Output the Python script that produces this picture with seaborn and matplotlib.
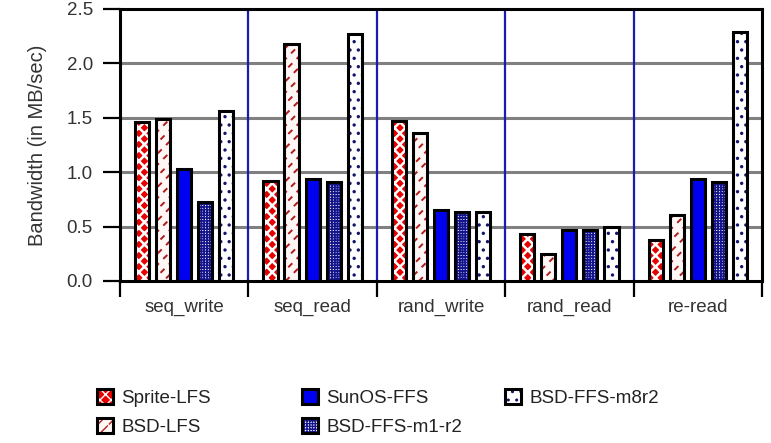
import matplotlib
matplotlib.use("Agg")
import matplotlib.pyplot as plt
import matplotlib.patches as mpatches
from matplotlib.legend_handler import HandlerTuple
import numpy as np
import pandas as pd
import seaborn as sns

# Benchmark phases and file systems
tests = ["seq_write", "seq_read", "rand_write", "rand_read", "re-read"]
systems = ["Sprite-LFS", "BSD-LFS", "SunOS-FFS", "BSD-FFS-m1-r2", "BSD-FFS-m8r2"]

# Bandwidth (MB/sec) per file system, one value per test
sprite_lfs = [1.46, 0.92, 1.47, 0.43, 0.38]
bsd_lfs = [1.49, 2.18, 1.36, 0.25, 0.61]
sunos_ffs = [1.03, 0.94, 0.65, 0.47, 0.94]
bsd_ffs_m1r2 = [0.73, 0.91, 0.63, 0.47, 0.91]
bsd_ffs_m8r2 = [1.56, 2.27, 0.63, 0.50, 2.29]

yticks = [0.0, 0.5, 1.0, 1.5, 2.0, 2.5]

series = [sprite_lfs, bsd_lfs, sunos_ffs, bsd_ffs_m1r2, bsd_ffs_m8r2]
df = pd.DataFrame(
    [(t, s, v) for s, vals in zip(systems, series) for t, v in zip(tests, vals)],
    columns=["test", "system", "bw"],
)

# Fill layers per system: list of (face colour, hatch colour, hatch, hatch line width)
styles = {
    "Sprite-LFS": [("#e60000", "white", "xxx", 1.8)],
    # dark-red diagonal strokes broken into short dashes by white cross strokes
    "BSD-LFS": [("#fff6f6", "#b01c1c", "///", 1.4), ("none", "#fff6f6", "\\\\", 4.4)],
    "SunOS-FFS": [("#0000f0", "#0000f0", None, 1.0)],
    "BSD-FFS-m1-r2": [("white", "#14148c", "++++++", 1.2)],
    "BSD-FFS-m8r2": [("white", "#14146e", "..", 1.2)],
}

sns.set_theme(style="white")
plt.rcParams["font.family"] = ["Liberation Sans", "DejaVu Sans"]
text_color = "#333333"
tick_size = legend_size = 13.5

fig = plt.figure(figsize=(7.71, 4.43), dpi=100)
ax = fig.add_axes([0.1556, 0.3657, 0.8327, 0.614])

sns.barplot(
    data=df, x="test", y="bw", hue="system", order=tests, hue_order=systems,
    palette=["white"] * len(systems), saturation=1, width=0.82, gap=0.33,
    edgecolor="black", linewidth=2.2, legend=False, ax=ax, zorder=3,
)


def fill_layers(system, xy, w, h, base_z=2.5):
    layers = []
    for k, (face, hcol, hatch, hlw) in enumerate(styles[system]):
        with plt.rc_context({"hatch.linewidth": hlw}):
            layers.append(mpatches.Rectangle(
                xy, w, h, facecolor=face, edgecolor=hcol, hatch=hatch,
                linewidth=0, zorder=base_z + 0.01 * k))
    return layers


# Draw each bar's patterned fill beneath its black outline
for system, container in zip(systems, ax.containers):
    for bar in container:
        bar.set_facecolor("none")
        for layer in fill_layers(system, (bar.get_x(), bar.get_y()),
                                 bar.get_width(), bar.get_height()):
            ax.add_patch(layer)

ax.set_xlim(-0.5, len(tests) - 0.5)
ax.set_ylim(0, 2.5)
ax.set_yticks(yticks)
ax.set_yticklabels([f"{v:.1f}" for v in yticks])

# Horizontal grid and blue separators between test groups
for v in yticks[1:-1]:
    ax.axhline(v, color="#808080", lw=2.2, zorder=1)
for b in np.arange(0.5, len(tests) - 1, 1.0):
    ax.axvline(b, color="#1a1ab4", lw=1.6, zorder=1)

for sp in ax.spines.values():
    sp.set_visible(True)
    sp.set_color("black")
    sp.set_linewidth(2.2)

ax.tick_params(axis="y", which="major", direction="out", length=12.5, width=1.6,
               color="black", left=True, labelsize=tick_size, labelcolor=text_color, pad=7)
ax.set_xticks(np.arange(-0.5, len(tests), 1.0), minor=True)
ax.tick_params(axis="x", which="minor", direction="out", length=11.5, width=1.6,
               color="black", bottom=True)
ax.tick_params(axis="x", which="major", length=0, labelsize=tick_size,
               labelcolor=text_color, pad=13)
ax.set_xlabel("")
ax.set_ylabel("Bandwidth (in MB/sec)", fontsize=14.5, color=text_color, labelpad=14)


def legend_handle(system):
    layers = fill_layers(system, (0, 0), 1, 1)
    outline = mpatches.Patch(facecolor="none", edgecolor="black", linewidth=2.2)
    return tuple(layers) + (outline,)


# Legend laid out in three columns below the plot
columns = [(["Sprite-LFS", "BSD-LFS"], 0.1258), (["SunOS-FFS", "BSD-FFS-m1-r2"], 0.3917),
           (["BSD-FFS-m8r2"], 0.655)]
for names, xpos in columns:
    fig.legend(
        [legend_handle(n) for n in names], names,
        handler_map={tuple: HandlerTuple(ndivide=1, pad=0)},
        loc="upper left", bbox_to_anchor=(xpos, 0.121), frameon=False,
        fontsize=legend_size, handlelength=0.85, handleheight=0.85, handletextpad=0.45,
        labelspacing=0.55, borderpad=0, borderaxespad=0, labelcolor="#222222",
    )

fig.savefig("out.png", dpi=100)
